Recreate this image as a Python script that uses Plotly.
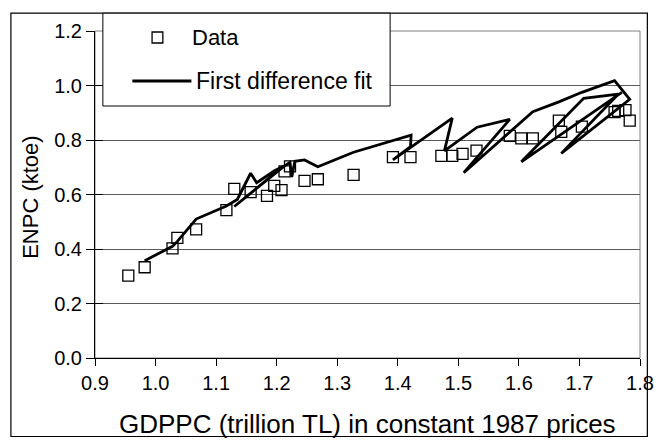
import plotly.graph_objects as go

# ---- data ----
data_x = [0.955, 0.982, 1.028, 1.036, 1.067, 1.117, 1.130, 1.157, 1.184, 1.196,
          1.208, 1.213, 1.222, 1.246, 1.268, 1.327, 1.392, 1.421, 1.472, 1.490,
          1.507, 1.530, 1.585, 1.604, 1.623, 1.666, 1.670, 1.704, 1.758, 1.764,
          1.776, 1.783]
data_y = [0.302, 0.333, 0.402, 0.441, 0.472, 0.543, 0.621, 0.609, 0.595, 0.632,
          0.616, 0.685, 0.703, 0.650, 0.656, 0.672, 0.737, 0.737, 0.742, 0.742,
          0.749, 0.761, 0.815, 0.806, 0.806, 0.871, 0.830, 0.849, 0.902, 0.907,
          0.910, 0.871]

fit_x = [0.982, 1.028, 1.036, 1.067, 1.117, 1.135, 1.157, 1.167, 1.197, 1.213,
         1.130, 1.208, 1.222, 1.225, 1.230, 1.246, 1.268, 1.327, 1.422, 1.421,
         1.392, 1.490, 1.477, 1.531, 1.585, 1.509, 1.623, 1.666, 1.704, 1.758,
         1.783, 1.670, 1.764, 1.707, 1.604, 1.770]
fit_y = [0.357, 0.410, 0.428, 0.510, 0.558, 0.582, 0.678, 0.643, 0.688, 0.705,
         0.556, 0.698, 0.718, 0.664, 0.722, 0.727, 0.702, 0.755, 0.818, 0.776,
         0.727, 0.880, 0.760, 0.847, 0.876, 0.680, 0.904, 0.940, 0.975, 1.018,
         0.949, 0.751, 0.968, 0.953, 0.720, 0.975]

x_ticks = [0.9, 1.0, 1.1, 1.2, 1.3, 1.4, 1.5, 1.6, 1.7, 1.8]
y_ticks = [0.0, 0.2, 0.4, 0.6, 0.8, 1.0, 1.2]

FONT = "Liberation Sans, Arial, sans-serif"

fig = go.Figure()
fig.add_trace(go.Scatter(
    x=fit_x, y=fit_y, mode="lines", name="First difference fit",
    line=dict(color="black", width=2.8), showlegend=False))
fig.add_trace(go.Scatter(
    x=data_x, y=data_y, mode="markers", name="Data",
    marker=dict(symbol="square-open", size=11, color="black",
                line=dict(width=1.3, color="black")), showlegend=False))
# empty trace to carry the inside-tick overlay axis
fig.add_trace(go.Scatter(x=[None], y=[None], yaxis="y2", showlegend=False,
                         hoverinfo="skip"))

# the page body adds an 8 px offset, so the figure is 8 px smaller on top/left
fig.update_layout(
    width=658, height=436,
    margin=dict(l=87, r=17, t=23, b=86),
    paper_bgcolor="white", plot_bgcolor="white",
    font=dict(family=FONT, color="black"),
    xaxis=dict(range=[0.9, 1.8], tickvals=x_ticks,
               ticktext=[f"{v:.1f}" for v in x_ticks],
               showgrid=False, zeroline=False,
               showline=True, linecolor="black", linewidth=1,
               ticks="outside", ticklen=7, tickcolor="black", tickwidth=1,
               tickfont=dict(size=20, family=FONT)),
    yaxis=dict(range=[0, 1.2], tickvals=y_ticks,
               ticktext=[f"{v:.1f}" for v in y_ticks],
               showgrid=True, gridcolor="#5a5a5a", gridwidth=1, zeroline=False,
               showline=True, linecolor="black", linewidth=1,
               ticks="outside", ticklen=8, tickcolor="black", tickwidth=1,
               tickfont=dict(size=20, family=FONT)),
    yaxis2=dict(range=[0, 1.2], tickvals=y_ticks, overlaying="y", side="left",
                showticklabels=False, showgrid=False, zeroline=False,
                showline=False, ticks="inside", ticklen=8,
                tickcolor="black", tickwidth=1),
)

shapes = []
# plot area border (gray)
shapes.append(dict(type="rect", xref="paper", yref="paper", x0=0, x1=1, y0=0, y1=1,
                   line=dict(color="#808080", width=1), layer="below"))
# outer chart border
shapes.append(dict(type="rect", xref="paper", yref="paper",
                   x0=-0.1543, x1=1.0135, y0=-0.2400, y1=1.0545,
                   line=dict(color="black", width=1.2), layer="above"))
# legend box
shapes.append(dict(type="rect", xref="paper", yref="paper",
                   x0=0.01444, x1=0.5415, y0=0.7706, y1=1.0545,
                   fillcolor="white", line=dict(color="black", width=1), layer="above"))
# legend square symbol
shapes.append(dict(type="rect", xref="paper", yref="paper",
                   x0=0.1146 - 0.0099, x1=0.1146 + 0.0099,
                   y0=0.9801 - 0.0168, y1=0.9801 + 0.0168,
                   fillcolor="white", line=dict(color="black", width=1.3), layer="above"))
# legend line sample
shapes.append(dict(type="line", xref="paper", yref="paper",
                   x0=0.0686, x1=0.1769, y0=0.8471, y1=0.8471,
                   line=dict(color="black", width=2.8), layer="above"))

annotations = [
    dict(text="Data", xref="paper", yref="paper", x=0.1751, y=0.9801,
         xanchor="left", yanchor="middle", showarrow=False,
         font=dict(size=22, family=FONT)),
    dict(text="First difference fit", xref="paper", yref="paper", x=0.1823, y=0.8471,
         xanchor="left", yanchor="middle", showarrow=False,
         font=dict(size=23, family=FONT)),
    dict(text="GDPPC (trillion TL) in constant 1987 prices", xref="paper", yref="paper",
         x=0.5, y=-0.2018, xanchor="center", yanchor="middle", showarrow=False,
         font=dict(size=26, family=FONT)),
    dict(text="ENPC (ktoe)", xref="paper", yref="paper", x=-0.1173, y=0.49,
         xanchor="center", yanchor="middle", showarrow=False, textangle=-90,
         font=dict(size=22, family=FONT)),
]
fig.update_layout(shapes=shapes, annotations=annotations)

fig.write_html("out.html")
